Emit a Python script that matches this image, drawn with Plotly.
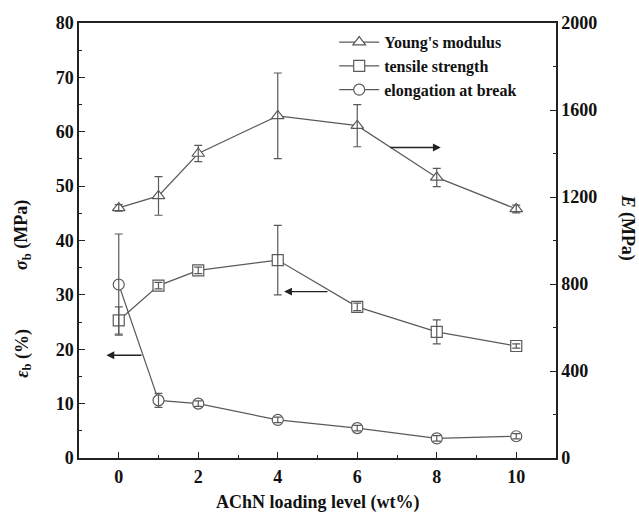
import plotly.graph_objects as go

loading = [0, 1, 2, 4, 6, 8, 10]
youngs = [1150, 1205, 1400, 1573, 1528, 1290, 1145]
youngs_err = [15, 89, 37, 197, 97, 42, 18]
tensile = [25.3, 31.7, 34.5, 36.4, 27.8, 23.2, 20.6]
tensile_err = [2.5, 0.6, 0.6, 6.4, 0.7, 2.2, 0.4]
elong = [31.9, 10.6, 10.0, 7.0, 5.5, 3.6, 4.0]
elong_err = [9.3, 1.3, 0.5, 0.5, 0.5, 0.5, 0.5]

FONT = "Liberation Serif"
GRAY = "#5a5a5a"
AX = "#222222"

def trace(name, y, sym, yaxis):
    return go.Scatter(
        x=loading, y=y, name="<b>" + name + "</b>", yaxis=yaxis, mode="lines+markers",
        line=dict(color=GRAY, width=1.2),
        marker=dict(symbol=sym, size=11, color="white", line=dict(color=GRAY, width=1.2)),
    )

def errs(y, err, yaxis):
    return go.Scatter(
        x=loading, y=y, yaxis=yaxis, mode="markers", showlegend=False, hoverinfo="skip",
        marker=dict(size=1, opacity=0),
        error_y=dict(type="data", array=err, visible=True, color=GRAY, thickness=1.2, width=4),
    )

fig = go.Figure()
fig.add_trace(trace("Young's modulus", youngs, "triangle-up", "y2"))
fig.add_trace(trace("tensile strength", tensile, "square", "y"))
fig.add_trace(trace("elongation at break", elong, "circle", "y"))
fig.add_trace(errs(youngs, youngs_err, "y2"))
fig.add_trace(errs(tensile, tensile_err, "y"))
fig.add_trace(errs(elong, elong_err, "y"))

tickfont = dict(family=FONT, size=18, color="#111", weight="bold")
common = dict(ticks="inside", ticklen=6, tickwidth=1.3, tickcolor=AX, showline=True, automargin=False,
              linecolor=AX, linewidth=1.5, showgrid=False, zeroline=False, tickfont=tickfont)
fig.update_layout(
    width=639, height=515,
    margin=dict(l=79, r=83, t=23, b=57),
    plot_bgcolor="white", paper_bgcolor="white",
    font=dict(family=FONT, color="#111"),
    showlegend=True,
    legend=dict(x=0.535, y=0.995, xanchor="left", yanchor="top",
                bgcolor="rgba(0,0,0,0)", font=dict(family=FONT, size=16, color="#111"),
                itemwidth=40, tracegroupgap=0),
    xaxis=dict(range=[-1, 11], tickvals=[0, 2, 4, 6, 8, 10], mirror=True, ticklabelstandoff=2,
               minor=dict(tickvals=[1, 3, 5, 7, 9], ticks="inside", ticklen=3, tickcolor=AX),
               **common),
    yaxis=dict(range=[0, 80], tickvals=[0, 10, 20, 30, 40, 50, 60, 70, 80],
               minor=dict(tickvals=[5, 15, 25, 35, 45, 55, 65, 75], ticks="inside", ticklen=3, tickcolor=AX),
               **common),
    yaxis2=dict(range=[0, 2000], tickvals=[0, 400, 800, 1200, 1600, 2000], overlaying="y", side="right",
                minor=dict(tickvals=[200, 600, 1000, 1400, 1800], ticks="inside", ticklen=3, tickcolor=AX),
                **common),
)

# Axis titles
def label(x, y, text, angle=0):
    fig.add_annotation(x=x, y=y, xref="paper", yref="paper", xanchor="center", yanchor="middle",
                       textangle=angle, showarrow=False, text=text,
                       font=dict(family=FONT, size=18, color="#111"))

label(0.501, -0.103, "<b>AChN loading level (wt%)</b>")
label(-0.117, 0.513, "<b><i>σ</i><sub>b</sub> (MPa)</b>", -90)
label(-0.117, 0.24, "<b><i>ε</i><sub>b</sub> (%)</b>", -90)
label(1.149, 0.53, "<b><i>E</i> (MPa)</b>", 90)

# Arrows
def arrow(x0, x1, y):
    fig.add_annotation(x=x1, y=y, ax=x0, ay=y, xref="x", yref="y", axref="x", ayref="y",
                       showarrow=True, arrowhead=2, arrowsize=1.2, arrowwidth=1.3, arrowcolor="#222", text="")

arrow(0.61, -0.31, 18.9)
arrow(5.29, 4.16, 30.6)
arrow(6.79, 8.1, 57.1)

fig.write_html("out.html")
